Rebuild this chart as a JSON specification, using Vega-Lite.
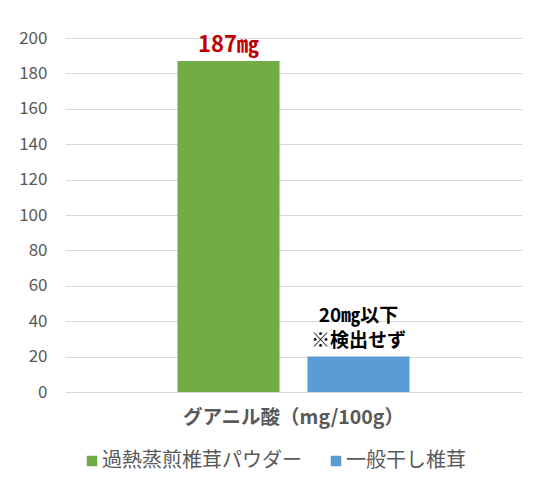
{
  "$schema": "https://vega.github.io/schema/vega-lite/v6.json",
  "width": 457,
  "height": 354,
  "autosize": {"type": "none"},
  "padding": {"left": 65, "top": 38, "right": 25, "bottom": 98},
  "background": "white",
  "config": {"view": {"stroke": null}, "font": "Noto Sans CJK JP"},
  "data": {
    "values": [
      {"category": "グアニル酸（mg/100g）", "series": "過熱蒸煎椎茸パウダー", "value": 187, "label": "187㎎"},
      {"category": "グアニル酸（mg/100g）", "series": "一般干し椎茸", "value": 20, "label": "20㎎以下\n※検出せず"}
    ]
  },
  "encoding": {
    "x": {
      "field": "category",
      "type": "nominal",
      "scale": {"paddingInner": 0, "paddingOuter": 0.485},
      "axis": {
        "title": null,
        "labelAngle": 0,
        "domain": false,
        "ticks": false,
        "labelFontSize": 19.5,
        "labelFontWeight": "bold",
        "labelColor": "#595959",
        "labelPadding": 16,
        "labelLimit": 0
      }
    },
    "xOffset": {
      "field": "series",
      "type": "nominal",
      "sort": ["過熱蒸煎椎茸パウダー", "一般干し椎茸"],
      "scale": {"paddingInner": 0.215, "paddingOuter": 0}
    },
    "y": {
      "field": "value",
      "type": "quantitative",
      "scale": {"domain": [0, 200]},
      "axis": {
        "title": null,
        "values": [0, 20, 40, 60, 80, 100, 120, 140, 160, 180, 200],
        "grid": true,
        "gridColor": "#d9d9d9",
        "domain": false,
        "ticks": false,
        "labelFontSize": 17,
        "labelColor": "#595959",
        "labelPadding": 18
      }
    }
  },
  "layer": [
    {
      "mark": {"type": "bar"},
      "encoding": {
        "color": {
          "field": "series",
          "type": "nominal",
          "sort": ["過熱蒸煎椎茸パウダー", "一般干し椎茸"],
          "scale": {"domain": ["過熱蒸煎椎茸パウダー", "一般干し椎茸"], "range": ["#70ad47", "#5b9bd5"]},
          "legend": {
            "orient": "none",
            "legendX": 17,
            "legendY": 413,
            "direction": "horizontal",
            "title": null,
            "symbolType": "square",
            "symbolSize": 110,
            "symbolStrokeWidth": 0,
            "labelFontSize": 20,
            "labelColor": "#595959",
            "labelLimit": 400,
            "columnPadding": 24,
            "labelOffset": 0
          }
        }
      }
    },
    {
      "transform": [{"filter": "datum.value > 100"}],
      "mark": {"type": "text", "baseline": "bottom", "dy": -4, "fontWeight": "bold", "fontSize": 22, "color": "#c00000"},
      "encoding": {
        "text": {"field": "label"}
      }
    },
    {
      "transform": [{"filter": "datum.value <= 100"}],
      "mark": {"type": "text", "baseline": "bottom", "dy": -31, "fontWeight": "bold", "fontSize": 19, "color": "#000000", "lineBreak": "\n", "lineHeight": 25},
      "encoding": {
        "text": {"field": "label"}
      }
    }
  ]
}
